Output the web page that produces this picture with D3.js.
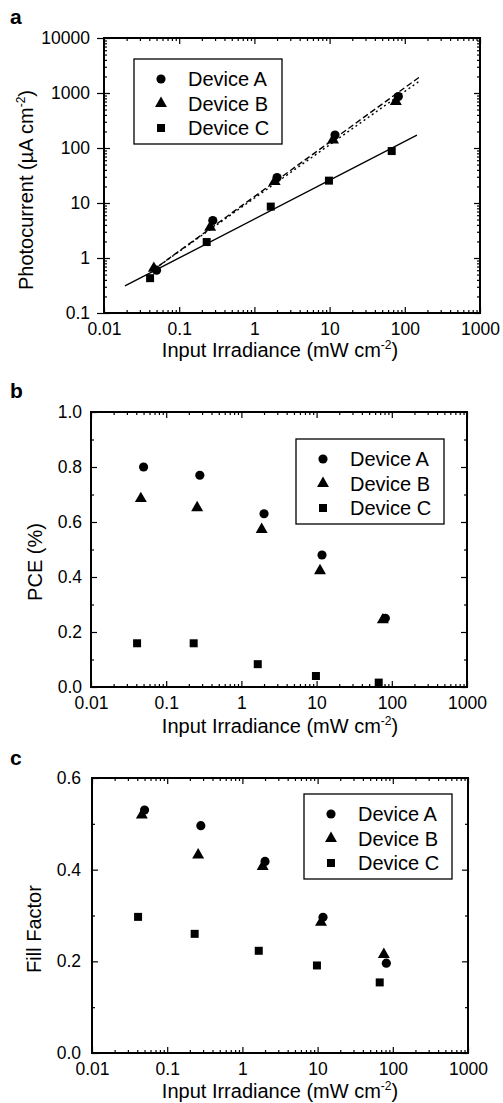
<!DOCTYPE html>
<html>
<head>
<meta charset="utf-8">
<script src="https://cdn.jsdelivr.net/npm/d3@7"></script>
<style>
  body { margin: 0; background: #fff; }
  svg { display: block; }
  text { font-family: "Liberation Sans", Arial, sans-serif; fill: #000; }
  .domain { display: none; }
  .tick line { stroke: #000; stroke-width: 1.2; }
</style>
</head>
<body>
<div id="chart"></div>
<script>
// irradiance (mW cm^-2) per device
const irrA = [0.05, 0.28, 2.0, 11.8, 82];
const irrB = [0.046, 0.258, 1.86, 11.1, 76];
const irrC = [0.041, 0.232, 1.65, 9.8, 67];

// a: photocurrent (uA cm^-2)
const photoA = [0.6, 4.8, 29, 172, 860];
const photoB = [0.65, 3.6, 24.5, 140, 700];
const photoC = [0.43, 1.95, 8.6, 25.5, 88];
// fitted lines, read as two end points
const fitA = [[0.043, 0.58], [155, 1930]];
const fitB = [[0.043, 0.58], [152, 1600]];
const fitC = [[0.019, 0.31], [145, 172]];

// b: PCE (%)
const pceA = [0.80, 0.77, 0.63, 0.48, 0.25];
const pceB = [0.685, 0.652, 0.573, 0.423, 0.244];
const pceC = [0.159, 0.159, 0.083, 0.04, 0.016];

// c: fill factor
const ffA = [0.530, 0.496, 0.418, 0.296, 0.196];
const ffB = [0.519, 0.432, 0.407, 0.285, 0.215];
const ffC = [0.297, 0.260, 0.223, 0.191, 0.154];

const devices = ['Device A', 'Device B', 'Device C'];
const xMajor = [0.01, 0.1, 1, 10, 100, 1000];
const logMajorY = [0.1, 1, 10, 100, 1000, 10000];

function logMinor(lo, hi) {
  const out = [];
  for (let d = lo; d < hi; d *= 10)
    for (let k = 2; k <= 9; k++) out.push(+(d * k).toPrecision(3));
  return out;
}

const svg = d3.select('#chart').append('svg')
  .attr('width', 503)
  .attr('height', 1103);

const symbols = [d3.symbolCircle, d3.symbolTriangle, d3.symbolSquare];
const symSize = [66, 62, 64];

function drawPanel(cfg) {
  const g = svg.append('g');
  const x = d3.scaleLog().domain([0.01, 1000]).range([cfg.left, cfg.right]);
  const y = cfg.log
    ? d3.scaleLog().domain(cfg.yDomain).range([cfg.bottom, cfg.top])
    : d3.scaleLinear().domain(cfg.yDomain).range([cfg.bottom, cfg.top]);

  // minor ticks
  const xMinor = logMinor(0.01, 1000);
  const addAxis = (axis, tf) => g.append('g').attr('transform', tf).call(axis);

  addAxis(d3.axisBottom(x).tickValues(xMinor).tickSize(-3).tickFormat(''), `translate(0,${cfg.bottom})`);
  addAxis(d3.axisTop(x).tickValues(xMinor).tickSize(-3).tickFormat(''), `translate(0,${cfg.top})`);
  addAxis(d3.axisLeft(y).tickValues(cfg.yMinor).tickSize(-3).tickFormat(''), `translate(${cfg.left},0)`);
  addAxis(d3.axisRight(y).tickValues(cfg.yMinor).tickSize(-3).tickFormat(''), `translate(${cfg.right},0)`);

  // major ticks + labels
  const xb = addAxis(d3.axisBottom(x).tickValues(xMajor).tickSize(-6).tickPadding(6)
      .tickFormat(d => String(d)), `translate(0,${cfg.bottom})`);
  xb.selectAll('text').attr('font-size', 17.5).attr('dy', '0.9em');
  addAxis(d3.axisTop(x).tickValues(xMajor).tickSize(-6).tickFormat(''), `translate(0,${cfg.top})`);
  const yl = addAxis(d3.axisLeft(y).tickValues(cfg.yMajor).tickSize(-6).tickPadding(cfg.yPad)
      .tickFormat(cfg.yFormat), `translate(${cfg.left},0)`);
  yl.selectAll('text').attr('font-size', 17.5);
  addAxis(d3.axisRight(y).tickValues(cfg.yMajor).tickSize(-6).tickFormat(''), `translate(${cfg.right},0)`);

  if (cfg.outMajor) {
    yl.selectAll('.tick').append('line').attr('x1', -7).attr('x2', 0);
  }

  // frame
  g.append('rect')
    .attr('x', cfg.left).attr('y', cfg.top)
    .attr('width', cfg.right - cfg.left).attr('height', cfg.bottom - cfg.top)
    .attr('fill', 'none').attr('stroke', '#000').attr('stroke-width', 2);

  // fit lines
  (cfg.fits || []).forEach(f => {
    g.append('path')
      .attr('d', d3.line().x(d => x(d[0])).y(d => y(d[1]))(f.pts))
      .attr('fill', 'none').attr('stroke', '#000').attr('stroke-width', 1.4)
      .attr('stroke-dasharray', f.dash);
  });

  // markers
  cfg.series.forEach((s, i) => {
    g.selectAll(null)
      .data(s.x.map((v, j) => [v, s.y[j]]))
      .join('path')
      .attr('transform', d => `translate(${x(d[0])},${y(d[1])})`)
      .attr('d', d3.symbol().type(symbols[i]).size(symSize[i]))
      .attr('fill', '#000');
  });

  // legend
  const lg = g.append('g').attr('transform', `translate(${cfg.legend[0]},${cfg.legend[1]})`);
  lg.append('rect').attr('width', 148).attr('height', 85)
    .attr('fill', '#fff').attr('stroke', '#000').attr('stroke-width', 1.3);
  devices.forEach((name, i) => {
    const ry = 20 + i * 24.5;
    lg.append('path')
      .attr('transform', `translate(27,${ry})`)
      .attr('d', d3.symbol().type(symbols[i]).size(symSize[i]))
      .attr('fill', '#000');
    lg.append('text').attr('x', 54).attr('y', ry).attr('dy', '0.36em')
      .attr('font-size', 20).text(name);
  });

  // axis titles
  const xt = g.append('text').attr('x', 280).attr('y', cfg.xTitleY)
    .attr('text-anchor', 'middle').attr('font-size', 20);
  xt.append('tspan').text('Input Irradiance (mW cm');
  xt.append('tspan').attr('font-size', 12).attr('dy', -8).text('-2');
  xt.append('tspan').attr('dy', 8).text(')');

  const yt = g.append('text')
    .attr('transform', `translate(${cfg.yTitle[0]},${cfg.yTitle[1]}) rotate(-90)`)
    .attr('text-anchor', 'middle').attr('font-size', 20);
  yt.append('tspan').text(cfg.yLabel);
  if (cfg.ySup) {
    yt.append('tspan').attr('font-size', 12).attr('dy', -8).text(cfg.ySup);
    yt.append('tspan').attr('dy', 8).text(')');
  }

  // panel letter
  g.append('text').attr('x', 10).attr('y', cfg.letterY)
    .attr('font-size', 21).attr('font-weight', 'bold').text(cfg.letter);
}

drawPanel({
  letter: 'a', letterY: 24,
  left: 104, right: 480, top: 38, bottom: 313,
  log: true, yDomain: [0.1, 10000],
  yMajor: logMajorY, yMinor: logMinor(0.1, 10000),
  yFormat: d => String(d), yPad: 14, outMajor: true,
  series: [{x: irrA, y: photoA}, {x: irrB, y: photoB}, {x: irrC, y: photoC}],
  fits: [{pts: fitA, dash: '6,3'}, {pts: fitB, dash: '2,3'}, {pts: fitC, dash: null}],
  legend: [134, 59],
  xTitleY: 357, yTitle: [33, 190],
  yLabel: 'Photocurrent (\u00b5A cm', ySup: '-2'
});

drawPanel({
  letter: 'b', letterY: 398,
  left: 91, right: 467, top: 412, bottom: 687,
  log: false, yDomain: [0, 1],
  yMajor: [0, 0.2, 0.4, 0.6, 0.8, 1.0], yMinor: [0.1, 0.3, 0.5, 0.7, 0.9],
  yFormat: d3.format('.1f'), yPad: 9,
  series: [{x: irrA, y: pceA}, {x: irrB, y: pceB}, {x: irrC, y: pceC}],
  legend: [296, 439],
  xTitleY: 733, yTitle: [42, 562],
  yLabel: 'PCE (%)'
});

drawPanel({
  letter: 'c', letterY: 765,
  left: 92, right: 468, top: 778, bottom: 1053,
  log: false, yDomain: [0, 0.6],
  yMajor: [0, 0.2, 0.4, 0.6], yMinor: [0.1, 0.3, 0.5],
  yFormat: d3.format('.1f'), yPad: 11,
  series: [{x: irrA, y: ffA}, {x: irrB, y: ffB}, {x: irrC, y: ffC}],
  legend: [304, 794],
  xTitleY: 1098, yTitle: [41, 929],
  yLabel: 'Fill Factor'
});
</script>
</body>
</html>
